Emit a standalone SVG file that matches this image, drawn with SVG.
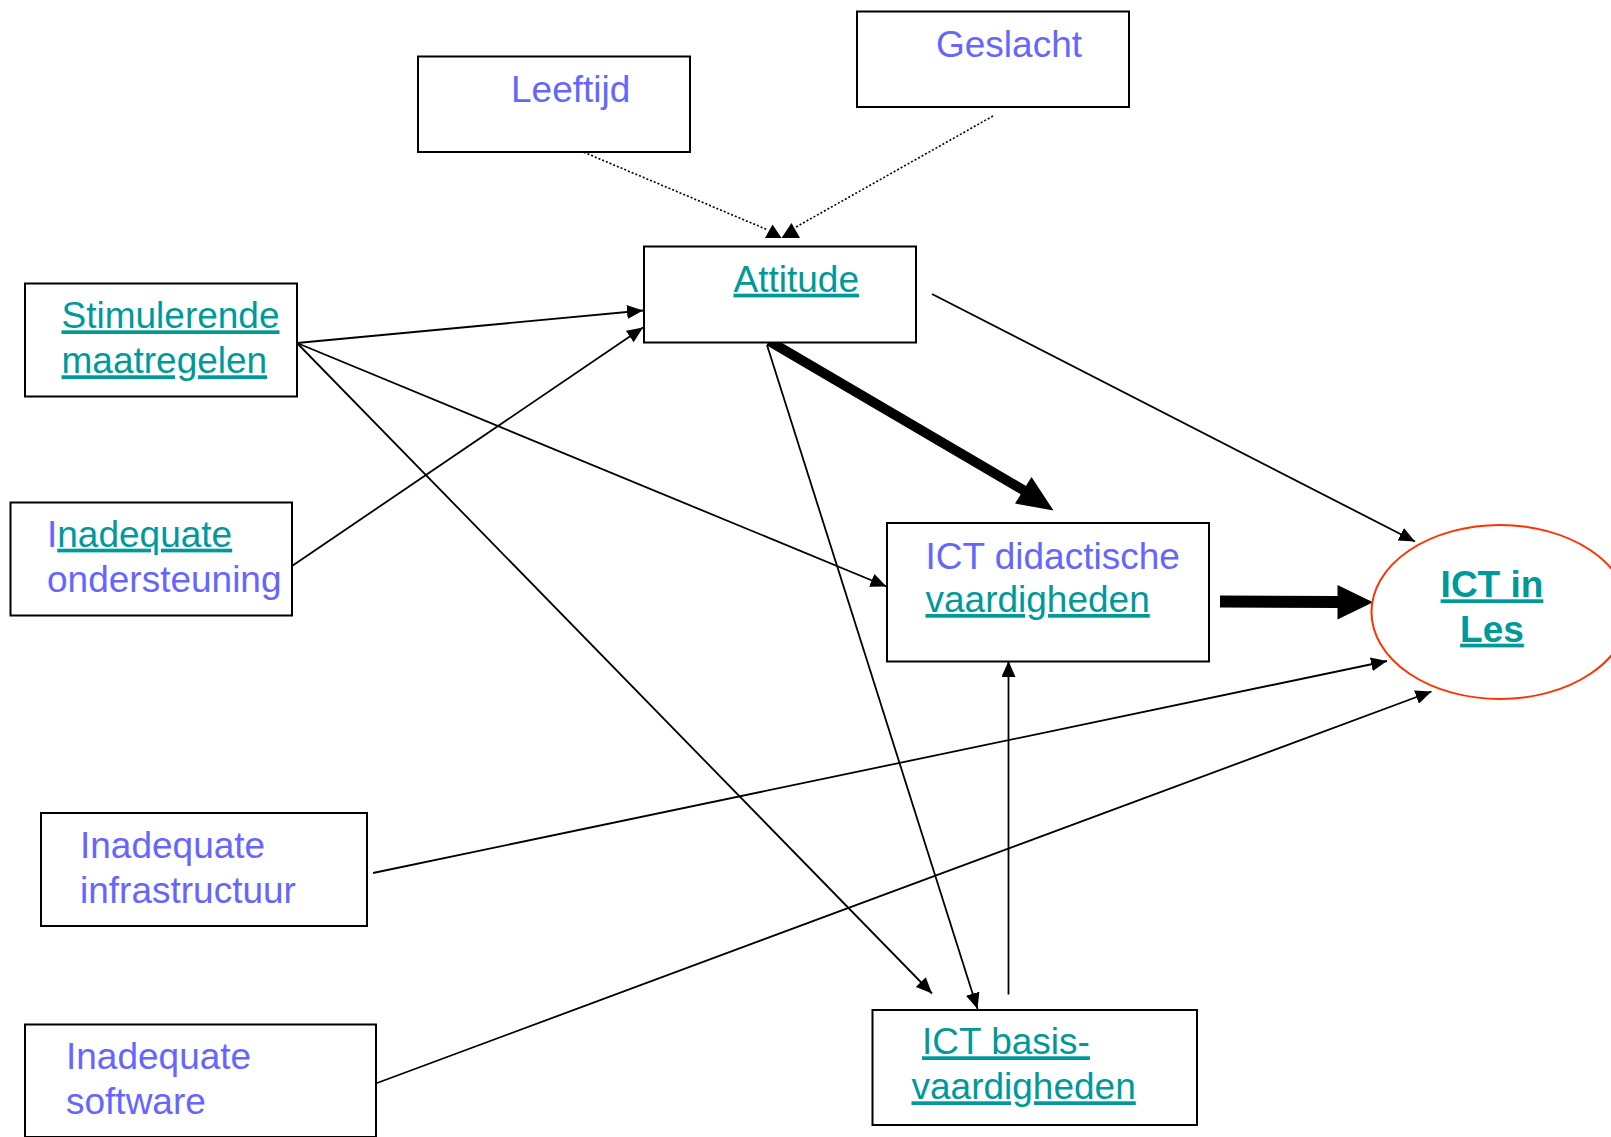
<svg xmlns="http://www.w3.org/2000/svg" width="1611" height="1137" viewBox="0 0 1611 1137">
  <style>
    .box { fill: #ffffff; stroke: #000000; stroke-width: 2; }
    .lbl { font-family: "Liberation Sans", Arial, sans-serif; font-size: 37px; }
    .plain { fill: #6666ff; }
    .link { fill: #009999; text-decoration: underline; }
    .bold { font-weight: bold; }
    .edge { fill: none; stroke: #000000; stroke-width: 1.8; }
    .dot { fill: none; stroke: #000000; stroke-width: 1.6; stroke-dasharray: 2 2; }
    .heavy { fill: none; stroke: #000000; }
    .head { fill: #000000; }
  </style>
  <defs>
    <marker id="arrow" markerUnits="userSpaceOnUse" markerWidth="16" markerHeight="14" refX="16" refY="7" orient="auto">
      <path d="M0,0 L16,7 L0,14 z" fill="#000000"/>
    </marker>
  </defs>

  <rect width="1611" height="1137" fill="#ffffff"/>

  <!-- connectors -->
  <g id="connectors">
    <!-- dotted moderators into Attitude -->
    <line class="dot" x1="569" y1="146" x2="768" y2="230"/>
    <polygon class="head" points="765,238 781.5,238 772.5,224.5"/>
    <line class="dot" x1="993" y1="116" x2="796" y2="227"/>
    <polygon class="head" points="781.5,238 800,238 791.5,223"/>

    <!-- thin arrows -->
    <line class="edge" x1="297" y1="343" x2="643" y2="310.5" marker-end="url(#arrow)"/>
    <line class="edge" x1="292" y1="566" x2="643" y2="327.5" marker-end="url(#arrow)"/>
    <line class="edge" x1="297" y1="343" x2="886.5" y2="586.5" marker-end="url(#arrow)"/>
    <line class="edge" x1="297" y1="343" x2="932" y2="993.5" marker-end="url(#arrow)"/>
    <line class="edge" x1="932" y1="294" x2="1415" y2="541.5" marker-end="url(#arrow)"/>
    <line class="edge" x1="767" y1="345" x2="977.5" y2="1009" marker-end="url(#arrow)"/>
    <line class="edge" x1="373" y1="873" x2="1387" y2="661" marker-end="url(#arrow)"/>
    <line class="edge" x1="373" y1="1084.5" x2="1431.5" y2="691.5" marker-end="url(#arrow)"/>
    <line class="edge" x1="1008.5" y1="994.5" x2="1008.5" y2="661" marker-end="url(#arrow)"/>

    <!-- heavy arrows -->
    <line class="heavy" stroke-width="10" x1="769" y1="341" x2="1024" y2="490.5"/>
    <polygon class="head" points="1053.5,510.5 1031.5,477 1015,503.5"/>
    <line class="heavy" stroke-width="12" x1="1220" y1="601.5" x2="1339" y2="602"/>
    <polygon class="head" points="1337.5,585 1373,602.3 1337.5,619.5"/>
  </g>

  <!-- nodes -->
  <g id="leeftijd">
    <rect class="box" x="418" y="56.5" width="272" height="95.5"/>
    <text class="lbl plain" x="511" y="101.7">Leeftijd</text>
  </g>

  <g id="geslacht">
    <rect class="box" x="857" y="11.5" width="272" height="95.5"/>
    <text class="lbl plain" x="936" y="56.7">Geslacht</text>
  </g>

  <g id="attitude">
    <rect class="box" x="644" y="246.5" width="272" height="96"/>
    <text class="lbl link" x="733.5" y="291.7">Attitude</text>
  </g>

  <g id="stimulerende-maatregelen">
    <rect class="box" x="25" y="283.5" width="272" height="113"/>
    <text class="lbl link" x="61.5" y="328.3">Stimulerende</text>
    <text class="lbl link" x="61.5" y="373.3">maatregelen</text>
  </g>

  <g id="inadequate-ondersteuning">
    <rect class="box" x="10.5" y="502.5" width="281.5" height="113"/>
    <text class="lbl" x="47" y="546.7"><tspan class="plain">I</tspan><tspan class="link">nadequate</tspan></text>
    <text class="lbl plain" x="47" y="591.7">ondersteuning</text>
  </g>

  <g id="ict-didactische-vaardigheden">
    <rect class="box" x="887" y="523" width="322" height="138.5"/>
    <text class="lbl plain" x="925.5" y="568.5">ICT didactische</text>
    <text class="lbl link" x="925.5" y="612">vaardigheden</text>
  </g>

  <g id="ict-in-les">
    <ellipse cx="1500" cy="612" rx="128.5" ry="87" fill="#ffffff" stroke="#ff3300" stroke-width="2"/>
    <text class="lbl link bold" x="1492" y="597.3" text-anchor="middle">ICT in</text>
    <text class="lbl link bold" x="1492" y="641.7" text-anchor="middle">Les</text>
  </g>

  <g id="inadequate-infrastructuur">
    <rect class="box" x="41" y="813" width="326" height="113"/>
    <text class="lbl plain" x="80" y="857.7">Inadequate</text>
    <text class="lbl plain" x="80" y="902.7">infrastructuur</text>
  </g>

  <g id="inadequate-software">
    <rect class="box" x="25" y="1024.5" width="351" height="112.5"/>
    <text class="lbl plain" x="66" y="1069.3">Inadequate</text>
    <text class="lbl plain" x="66" y="1114.3">software</text>
  </g>

  <g id="ict-basisvaardigheden">
    <rect class="box" x="872.5" y="1010" width="324.5" height="115"/>
    <text class="lbl link" x="922" y="1054.3">ICT basis-</text>
    <text class="lbl link" x="911.5" y="1099.3">vaardigheden</text>
  </g>
</svg>
